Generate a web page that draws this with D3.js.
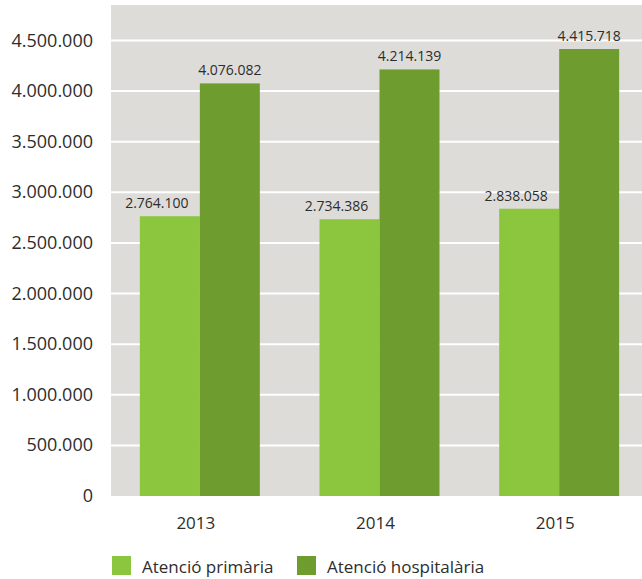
<!DOCTYPE html>
<html>
<head>
<meta charset="utf-8">
<script src="https://cdn.jsdelivr.net/npm/d3@7"></script>
<style>
  body { margin: 0; background: #fff; }
  svg text { font-family: "Open Sans", sans-serif; fill: #2d2d2d; }
</style>
</head>
<body>
<svg id="chart" width="642" height="579"></svg>
<script>
// data
const years = ['2013', '2014', '2015'];
const series = ['Atenció primària', 'Atenció hospitalària'];
const primaria = [2764100, 2734386, 2838058];
const hospitalaria = [4076082, 4214139, 4415718];
const yTicks = [0, 500000, 1000000, 1500000, 2000000, 2500000, 3000000, 3500000, 4000000, 4500000];
const colors = ['#8cc63f', '#6f9c2f'];

const svg = d3.select('#chart');
const fmt = v => d3.format(',')(v).replace(/,/g, '.');

const x = d3.scaleBand().domain(years).range([110, 649]).paddingInner(0).paddingOuter(0);
const xs = d3.scaleBand().domain(series).range([0, 120]);
const y = d3.scaleLinear().domain([0, 4500000]).range([496, 40.5]);

// background
svg.append('rect')
  .attr('x', 111).attr('y', 5)
  .attr('width', 642 - 111).attr('height', 496 - 5)
  .attr('fill', '#dddcd9');

// gridlines
svg.selectAll('line.grid')
  .data(yTicks.filter(d => d > 0))
  .enter().append('line')
  .attr('class', 'grid')
  .attr('x1', 111).attr('x2', 642)
  .attr('y1', d => y(d)).attr('y2', d => y(d))
  .attr('stroke', '#fff').attr('stroke-width', 2);

// y labels
svg.selectAll('text.ytick')
  .data(yTicks)
  .enter().append('text')
  .attr('class', 'ytick')
  .attr('x', 93)
  .attr('y', d => y(d) + 6)
  .attr('text-anchor', 'end')
  .style('font-size', '18px')
  .text(d => fmt(d));

const rows = years.map((yr, i) => ({ year: yr, vals: [primaria[i], hospitalaria[i]] }));

const groups = svg.selectAll('g.year')
  .data(rows)
  .enter().append('g')
  .attr('class', 'year')
  .attr('transform', d => `translate(${x(d.year) + x.bandwidth() / 2 - 60},0)`);

groups.selectAll('rect')
  .data(d => d.vals.map((v, j) => ({ v, s: series[j], j })))
  .enter().append('rect')
  .attr('x', d => xs(d.s))
  .attr('width', xs.bandwidth())
  .attr('y', d => y(d.v))
  .attr('height', d => y(0) - y(d.v))
  .attr('fill', d => colors[d.j]);

groups.selectAll('text.val')
  .data(d => d.vals.map((v, j) => ({ v, s: series[j], j })))
  .enter().append('text')
  .attr('class', 'val')
  .attr('x', d => xs(d.s) + xs.bandwidth() / 2 + (d.j === 0 ? -13 : 0))
  .attr('y', d => y(d.v) - 8)
  .attr('text-anchor', 'middle')
  .style('font-size', '14px')
  .text(d => fmt(d.v));

// x labels
svg.selectAll('text.xtick')
  .data(years)
  .enter().append('text')
  .attr('class', 'xtick')
  .attr('x', d => x(d) + x.bandwidth() / 2 - 4)
  .attr('y', 529)
  .attr('text-anchor', 'middle')
  .style('font-size', '17px')
  .text(d => d);

// legend
const legX = [112, 297];
const leg = svg.selectAll('g.legend')
  .data(series)
  .enter().append('g')
  .attr('class', 'legend')
  .attr('transform', (d, i) => `translate(${legX[i]},556)`);
leg.append('rect').attr('width', 19).attr('height', 19).attr('fill', (d, i) => colors[i]);
leg.append('text').attr('x', 30).attr('y', 17).style('font-size', '17px').text(d => d);
</script>
</body>
</html>
